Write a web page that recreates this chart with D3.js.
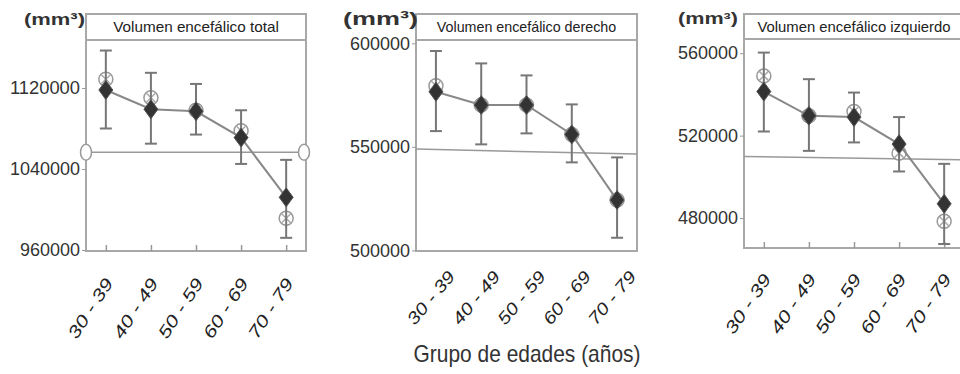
<!DOCTYPE html>
<html><head><meta charset="utf-8">
<script src="https://cdn.jsdelivr.net/npm/d3@7"></script>
<style>
body{margin:0;background:#fff;}
svg{display:block;}
</style></head>
<body>
<svg id="c" width="960" height="374"></svg>
<script>
const categories = ["30 - 39","40 - 49","50 - 59","60 - 69","70 - 79"];

const totalMean  = [1118000, 1099000, 1097000, 1071000, 1012000];
const totalUpper = [1157000, 1135000, 1124000, 1098000, 1049000];
const totalLower = [1080000, 1065000, 1074000, 1045000, 972000];
const totalOpen  = [1128600, 1110400, 1098000, 1077800, 991300];
const totalRef   = [1056500, 1056500];
const totalTicks = [960000, 1040000, 1120000];

const rightMean  = [576600, 570200, 570200, 556000, 524300];
const rightUpper = [596300, 590300, 584500, 570500, 544900];
const rightLower = [557600, 551200, 556500, 542500, 506100];
const rightOpen  = [579500, 570200, 570200, 556000, 524300];
const rightRef   = [548900, 546500];
const rightTicks = [500000, 550000, 600000];

const leftMean   = [541400, 529600, 529000, 515900, 486900];
const leftUpper  = [560300, 547400, 540900, 529000, 506300];
const leftLower  = [522000, 512600, 516700, 502600, 467400];
const leftOpen   = [549000, 529600, 531700, 511500, 478400];
const leftRef    = [509900, 508300];
const leftTicks  = [480000, 520000, 560000];

const titles = ["Volumen encefálico total","Volumen encefálico derecho","Volumen encefálico izquierdo"];
const unitLabel = "(mm³)";
const xAxisTitle = "Grupo de edades (años)";

const panels = [
  {title:titles[0], mean:totalMean, up:totalUpper, lo:totalLower, open:totalOpen, ref:totalRef, ticks:totalTicks,
   x0:86, x1:306, top:14, strip:40, bottom:251, domain:[959000,1167400], endCircles:true, xTicks:true,
   unit:{x:85, y:25, size:17, len:61}, lab:{dx:8, dy:32, rot:-57, len:68}},
  {title:titles[1], mean:rightMean, up:rightUpper, lo:rightLower, open:rightOpen, ref:rightRef, ticks:rightTicks,
   x0:416, x1:637, top:14, strip:40, bottom:251, domain:[499700,601600], endCircles:false, xTicks:false,
   unit:{x:418, y:25, size:19, len:75}, lab:{dx:20, dy:26, rot:-50, len:64}},
  {title:titles[2], mean:leftMean, up:leftUpper, lo:leftLower, open:leftOpen, ref:leftRef, ticks:leftTicks,
   x0:744, x1:964, top:14, strip:39, bottom:248, domain:[465450,566900], endCircles:false, xTicks:true,
   unit:{x:738, y:24, size:16, len:60}, lab:{dx:8, dy:31, rot:-56, len:68}}
];

const svg = d3.select("#c");
const sans = "'Liberation Sans',Arial,sans-serif";
const frameCol = "#a8a8a8";

panels.forEach(p => {
  const g = svg.append("g");
  const x = d3.scalePoint().domain(categories).range([p.x0, p.x1]).padding(0.44);
  const y = d3.scaleLinear().domain(p.domain).range([p.bottom, p.strip]);

  // frame
  g.append("rect").attr("x",p.x0).attr("y",p.top).attr("width",p.x1-p.x0).attr("height",p.bottom-p.top)
    .attr("fill","#fff").attr("stroke",frameCol).attr("stroke-width",2);
  g.append("line").attr("x1",p.x0).attr("x2",p.x1).attr("y1",p.strip).attr("y2",p.strip)
    .attr("stroke",frameCol).attr("stroke-width",2);
  g.append("text").attr("x",(p.x0+p.x1)/2).attr("y",(p.top+p.strip)/2+5)
    .attr("text-anchor","middle").attr("font-family",sans).attr("font-size",15).attr("fill","#222")
    .attr("textLength", p.title.length*6.9).attr("lengthAdjust","spacingAndGlyphs")
    .text(p.title);

  // y axis
  const ya = d3.axisLeft(y).tickValues(p.ticks).tickSize(4).tickPadding(2).tickFormat(d3.format("d"));
  const yg = g.append("g").attr("transform",`translate(${p.x0},0)`).call(ya);
  yg.select(".domain").remove();
  yg.selectAll(".tick line").attr("stroke","#999");
  yg.selectAll(".tick text").attr("font-family",sans).attr("font-size",18).attr("fill","#333")
    .attr("textLength", d => String(d).length*10).attr("lengthAdjust","spacingAndGlyphs");

  // x axis (inner ticks)
  const xa = d3.axisBottom(x).tickSize(p.xTicks ? -6 : 0).tickFormat("");
  const xg = g.append("g").attr("transform",`translate(0,${p.bottom})`).call(xa);
  xg.select(".domain").remove();
  xg.selectAll(".tick line").attr("stroke","#999").attr("stroke-width",1.5);
  g.selectAll(".xl").data(categories).enter().append("text")
    .attr("transform",d=>`translate(${x(d)+p.lab.dx},${p.bottom+p.lab.dy}) rotate(${p.lab.rot})`)
    .attr("text-anchor","end").attr("font-family",sans)
    .attr("font-style","italic").attr("font-size",17).attr("fill","#222")
    .attr("textLength", p.lab.len).attr("lengthAdjust","spacingAndGlyphs").text(d=>d);

  // unit label
  g.append("text").attr("x",p.unit.x).attr("y",p.unit.y).attr("text-anchor","end")
    .attr("font-family",sans).attr("font-weight","bold")
    .attr("font-size",p.unit.size).attr("fill","#333")
    .attr("textLength", p.unit.len).attr("lengthAdjust","spacingAndGlyphs").text(unitLabel);

  // reference line
  g.append("line").attr("x1",p.x0).attr("x2",p.x1).attr("y1",y(p.ref[0])).attr("y2",y(p.ref[1]))
    .attr("stroke","#999").attr("stroke-width",1.5);
  if (p.endCircles) {
    [[p.x0,p.ref[0]],[p.x1-2,p.ref[1]]].forEach(([cx,v]) => {
      g.append("ellipse").attr("cx",cx).attr("cy",y(v)).attr("rx",5.5).attr("ry",8)
        .attr("fill","#fff").attr("stroke","#999").attr("stroke-width",1.5);
    });
  }

  // open markers
  const om = g.selectAll(".om").data(categories).enter().append("g")
    .attr("transform",(d,i)=>`translate(${x(d)},${y(p.open[i])})`);
  om.append("circle").attr("r",7).attr("fill","#fff").attr("stroke","#999").attr("stroke-width",1.5);
  om.append("path").attr("d","M-4.5,-4.5L4.5,4.5M-4.5,4.5L4.5,-4.5").attr("stroke","#aaa").attr("stroke-width",1.5);

  // error bars
  categories.forEach((d,i)=>{
    const cx = x(d);
    g.append("line").attr("x1",cx).attr("x2",cx).attr("y1",y(p.up[i])).attr("y2",y(p.lo[i]))
      .attr("stroke","#777").attr("stroke-width",2);
    [p.up[i],p.lo[i]].forEach(v=>{
      g.append("line").attr("x1",cx-6).attr("x2",cx+6).attr("y1",y(v)).attr("y2",y(v))
        .attr("stroke","#777").attr("stroke-width",2);
    });
  });

  // mean line
  const line = d3.line().x((d,i)=>x(categories[i])).y(d=>y(d));
  g.append("path").datum(p.mean).attr("d",line).attr("fill","none").attr("stroke","#888").attr("stroke-width",2);

  // diamonds
  g.selectAll(".dm").data(categories).enter().append("path")
    .attr("transform",(d,i)=>`translate(${x(d)},${y(p.mean[i])})`)
    .attr("d","M0,-9.5L7,0L0,9.5L-7,0Z").attr("fill","#333").attr("stroke","#555").attr("stroke-width",1);
});

svg.append("text").attr("x",527).attr("y",362).attr("text-anchor","middle")
  .attr("font-family",sans).attr("font-size",24).attr("fill","#333")
  .attr("textLength",227).attr("lengthAdjust","spacingAndGlyphs").text(xAxisTitle);
</script>
</body></html>
